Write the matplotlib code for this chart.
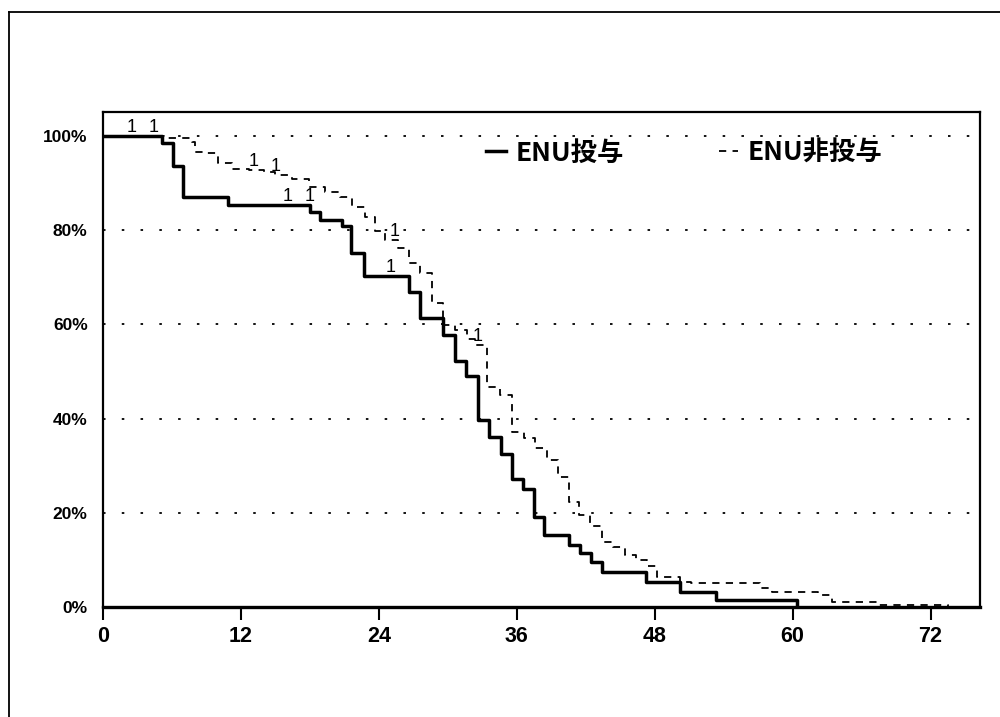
import matplotlib
matplotlib.use('Agg')
import matplotlib.pyplot as plt
from matplotlib import font_manager
from matplotlib.lines import Line2D

# months vs survival (%)
t_enu = [0, 5.1, 6.1, 7.0, 10.9, 18.0, 18.9, 20.8, 21.6, 22.7, 26.6, 27.6,
         29.6, 30.6, 31.6, 32.6, 33.6, 34.6, 35.6, 36.5, 37.5, 38.4, 40.5,
         41.5, 42.5, 43.4, 47.2, 50.2, 53.3, 60.4]
s_enu = [100, 98.6, 93.7, 87.1, 85.4, 83.8, 82.2, 80.9, 75.2, 70.2, 66.8, 61.3,
         57.7, 52.2, 49.1, 39.8, 36.1, 32.5, 27.2, 25.0, 19.2, 15.3, 13.2,
         11.4, 9.6, 7.5, 5.4, 3.2, 1.5, 0]

t_non = [0, 5.3, 7.7, 8.0, 9.0, 10.0, 11.2, 12.7, 14.0, 15.0, 16.4, 17.9,
         19.3, 20.6, 21.7, 22.8, 23.7, 24.5, 25.7, 26.6, 27.6, 28.6, 29.6,
         30.6, 31.7, 32.4, 33.4, 34.5, 35.6, 36.6, 37.6, 38.6, 39.6, 40.5,
         41.4, 42.4, 43.4, 44.4, 45.4, 46.4, 47.3, 48.2, 50.2, 51.2, 57.2,
         58.2, 62.2, 63.4, 67.4, 73.5]
s_non = [100, 99.6, 98.8, 96.7, 96.4, 94.2, 93.1, 92.8, 92.4, 91.7, 90.8, 89.2,
         88.2, 87.1, 84.9, 82.9, 79.9, 77.9, 76.2, 73.0, 71.0, 64.5, 59.9,
         58.8, 57.0, 55.6, 46.8, 45.0, 37.2, 35.8, 33.7, 31.3, 27.7, 22.4,
         19.5, 17.1, 13.9, 12.8, 11.0, 10.0, 8.6, 6.4, 5.4, 5.0, 4.0,
         3.2, 2.5, 1.1, 0.4, 0]

# censored observations ("1" marks)
cens_enu_t = [2.5, 4.4, 16.1, 18.0, 25.0]
cens_enu_s = [100, 100, 85.4, 85.4, 70.2]
cens_non_t = [13.1, 15.0, 25.4, 32.6]
cens_non_s = [92.8, 91.7, 77.9, 55.6]

labels = ['ENU投与', 'ENU非投与']
xticks = [0, 12, 24, 36, 48, 60, 72]
yticks = [0, 20, 40, 60, 80, 100]

installed = {f.name for f in font_manager.fontManager.ttflist}
narrow = 'Liberation Sans Narrow' in installed
xfont = 'Liberation Sans Narrow' if narrow else 'Liberation Sans'
xsize = 17 if narrow else 15.5
jp = ['Noto Sans CJK JP', 'DejaVu Sans']

fig = plt.figure(figsize=(10, 7.17), dpi=100)
ax = fig.add_axes([0.103, 1 - 607 / 717, 0.877, 495 / 717])

ax.step(t_enu, s_enu, where='post', color='black', lw=2.5, label=labels[0])
ax.step(t_non, s_non, where='post', color='black', lw=1.3,
        linestyle=(0, (4, 3.5)), label=labels[1])

for t, s in zip(cens_enu_t + cens_non_t, cens_enu_s + cens_non_s):
    ax.text(t, s, '1', ha='center', va='bottom', fontsize=13,
            family=xfont, color='black')

ax.set_xlim(0, 76.3)
ax.set_ylim(0, 105.1)
ax.set_xticks(xticks)
ax.set_xticklabels([str(v) for v in xticks], fontsize=xsize,
                   fontweight='bold', family=xfont)
ax.set_yticks(yticks)
ax.set_yticklabels(['%d%%' % v for v in yticks], fontsize=12.5,
                   fontweight='bold', family='Liberation Sans')
ax.tick_params(axis='x', direction='out', length=9, width=1.5, pad=5)
ax.tick_params(axis='y', length=0, pad=11)

ax.yaxis.grid(True, color='black', lw=1.3, linestyle=(0, (1.4, 9)))
ax.set_axisbelow(True)

for side, w in [('left', 1.6), ('top', 1.6), ('right', 1.6), ('bottom', 2.4)]:
    ax.spines[side].set_linewidth(w)

leg = ax.legend(loc='center left', bbox_to_anchor=(0.437, 0.917), ncol=2,
                frameon=False, borderaxespad=0, borderpad=0,
                handlelength=0.75, handletextpad=0.35, columnspacing=3.6,
                prop={'family': jp, 'weight': 'bold', 'size': 19})

# outer frame of the scanned page (top and left edges only)
fig.add_artist(Line2D([0.009, 1.0], [0.983, 0.983], color='black', lw=1.3))
fig.add_artist(Line2D([0.009, 0.009], [0.0, 0.983], color='black', lw=1.3))

fig.savefig('out.png', dpi=100)
